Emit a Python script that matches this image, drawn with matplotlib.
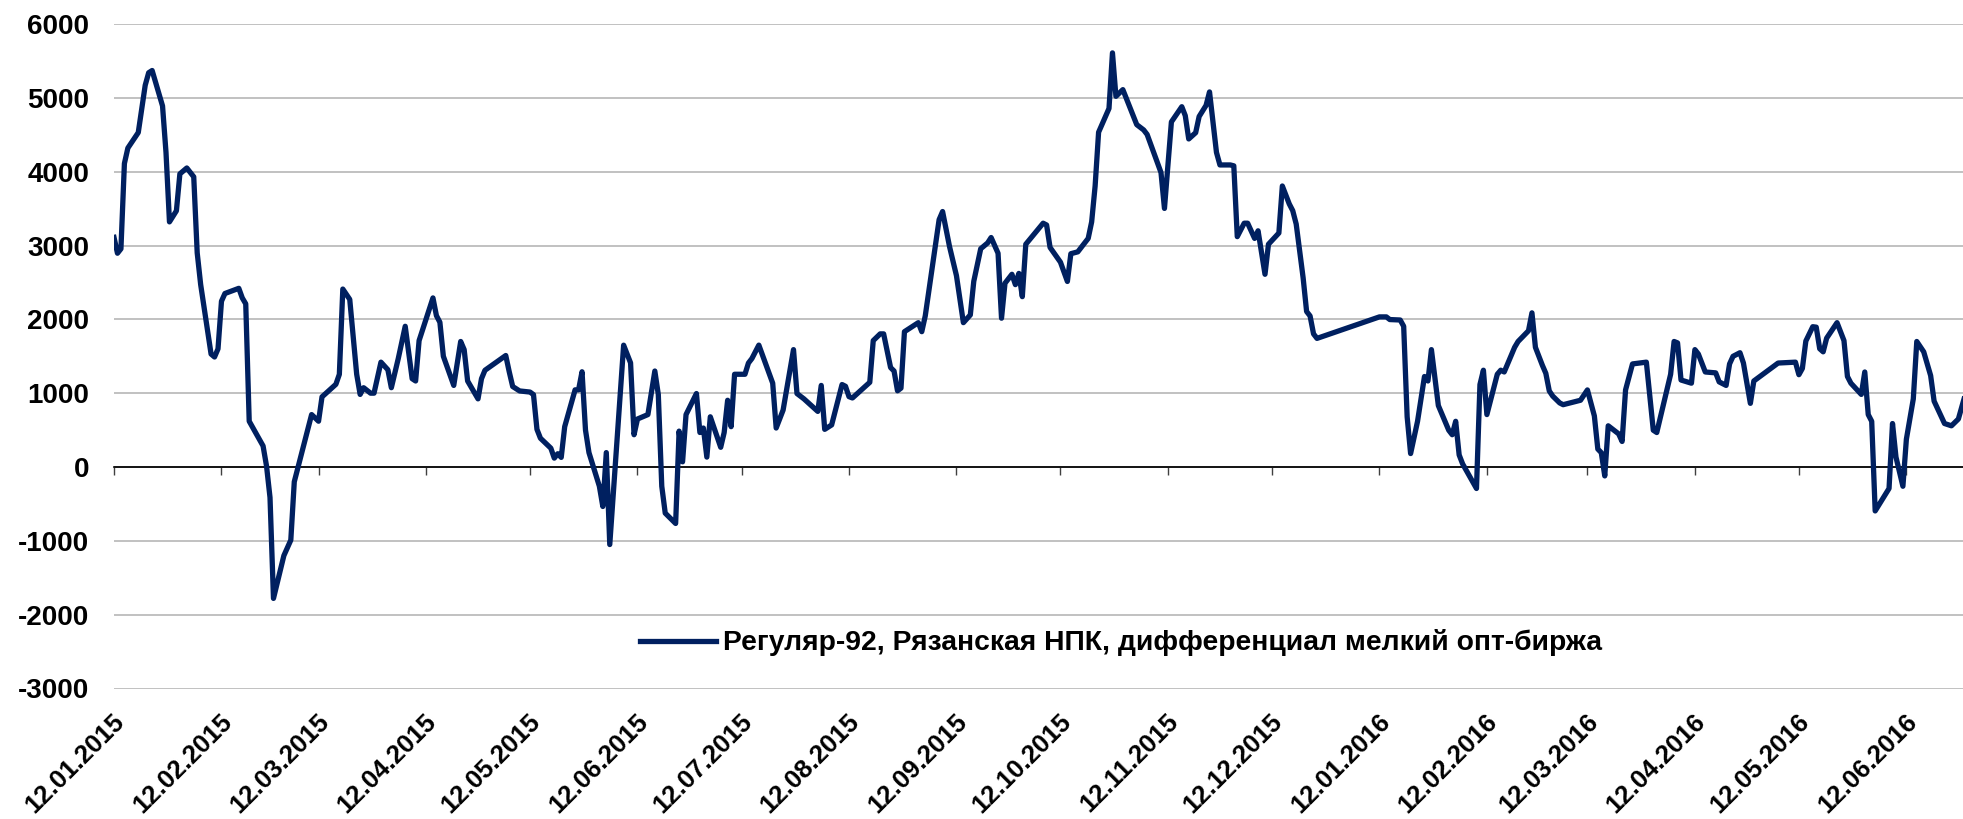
import matplotlib
matplotlib.use("Agg")
import matplotlib.pyplot as plt
import matplotlib.dates as mdates
from matplotlib.ticker import FixedLocator, NullFormatter
from matplotlib.transforms import ScaledTranslation
import pandas as pd

plt.rcParams['font.family'] = ['Liberation Sans', 'DejaVu Sans']
plt.rcParams['font.weight'] = 'bold'
plt.rcParams['axes.unicode_minus'] = False

# ряд: Регуляр-92, дифференциал мелкий опт - биржа
dates = [
    "2015-01-12", "2015-01-13", "2015-01-14", "2015-01-15", "2015-01-16", "2015-01-19",
    "2015-01-21", "2015-01-22", "2015-01-23", "2015-01-26", "2015-01-27", "2015-01-28",
    "2015-01-30", "2015-01-31", "2015-02-02", "2015-02-04", "2015-02-05", "2015-02-06",
    "2015-02-09", "2015-02-10", "2015-02-11", "2015-02-12", "2015-02-13", "2015-02-17",
    "2015-02-18", "2015-02-19", "2015-02-20", "2015-02-24", "2015-02-25", "2015-02-26",
    "2015-02-27", "2015-03-02", "2015-03-04", "2015-03-05", "2015-03-10", "2015-03-12",
    "2015-03-13", "2015-03-17", "2015-03-18", "2015-03-19", "2015-03-21", "2015-03-23",
    "2015-03-24", "2015-03-25", "2015-03-27", "2015-03-28", "2015-03-30", "2015-04-01",
    "2015-04-02", "2015-04-04", "2015-04-06", "2015-04-08", "2015-04-09", "2015-04-10",
    "2015-04-14", "2015-04-15", "2015-04-16", "2015-04-17", "2015-04-20", "2015-04-22",
    "2015-04-23", "2015-04-24", "2015-04-27", "2015-04-28", "2015-04-29", "2015-05-05",
    "2015-05-06", "2015-05-07", "2015-05-09", "2015-05-12", "2015-05-13", "2015-05-14",
    "2015-05-15", "2015-05-18", "2015-05-19", "2015-05-20", "2015-05-21", "2015-05-22",
    "2015-05-25", "2015-05-26", "2015-05-27", "2015-05-28", "2015-05-29", "2015-06-01",
    "2015-06-02", "2015-06-03", "2015-06-04", "2015-06-08", "2015-06-10", "2015-06-11",
    "2015-06-12", "2015-06-15", "2015-06-17", "2015-06-18", "2015-06-19", "2015-06-20",
    "2015-06-23", "2015-06-24", "2015-06-25", "2015-06-26", "2015-06-29", "2015-06-30",
    "2015-07-01", "2015-07-02", "2015-07-03", "2015-07-06", "2015-07-07", "2015-07-08",
    "2015-07-09", "2015-07-10", "2015-07-13", "2015-07-14", "2015-07-15", "2015-07-17",
    "2015-07-21", "2015-07-22", "2015-07-24", "2015-07-27", "2015-07-28", "2015-07-30",
    "2015-08-03", "2015-08-04", "2015-08-05", "2015-08-07", "2015-08-10", "2015-08-11",
    "2015-08-12", "2015-08-13", "2015-08-18", "2015-08-19", "2015-08-21", "2015-08-22",
    "2015-08-24", "2015-08-25", "2015-08-26", "2015-08-27", "2015-08-28", "2015-08-31",
    "2015-09-01", "2015-09-02", "2015-09-03", "2015-09-07", "2015-09-08", "2015-09-10",
    "2015-09-12", "2015-09-14", "2015-09-16", "2015-09-17", "2015-09-19", "2015-09-21",
    "2015-09-22", "2015-09-24", "2015-09-25", "2015-09-26", "2015-09-28", "2015-09-29",
    "2015-09-30", "2015-10-01", "2015-10-02", "2015-10-07", "2015-10-08", "2015-10-09",
    "2015-10-12", "2015-10-14", "2015-10-15", "2015-10-17", "2015-10-20", "2015-10-21",
    "2015-10-22", "2015-10-23", "2015-10-26", "2015-10-27", "2015-10-28", "2015-10-30",
    "2015-11-03", "2015-11-05", "2015-11-06", "2015-11-10", "2015-11-11", "2015-11-13",
    "2015-11-16", "2015-11-17", "2015-11-18", "2015-11-20", "2015-11-21", "2015-11-23",
    "2015-11-24", "2015-11-26", "2015-11-27", "2015-11-30", "2015-12-01", "2015-12-02",
    "2015-12-04", "2015-12-05", "2015-12-07", "2015-12-08", "2015-12-10", "2015-12-11",
    "2015-12-14", "2015-12-15", "2015-12-17", "2015-12-18", "2015-12-19", "2015-12-21",
    "2015-12-22", "2015-12-23", "2015-12-24", "2015-12-25", "2016-01-12", "2016-01-14",
    "2016-01-15", "2016-01-18", "2016-01-19", "2016-01-20", "2016-01-21", "2016-01-23",
    "2016-01-25", "2016-01-26", "2016-01-27", "2016-01-29", "2016-02-01", "2016-02-02",
    "2016-02-03", "2016-02-04", "2016-02-05", "2016-02-09", "2016-02-10", "2016-02-11",
    "2016-02-12", "2016-02-15", "2016-02-16", "2016-02-17", "2016-02-20", "2016-02-21",
    "2016-02-24", "2016-02-25", "2016-02-26", "2016-02-28", "2016-02-29", "2016-03-01",
    "2016-03-02", "2016-03-04", "2016-03-05", "2016-03-10", "2016-03-12", "2016-03-14",
    "2016-03-15", "2016-03-16", "2016-03-17", "2016-03-18", "2016-03-21", "2016-03-22",
    "2016-03-23", "2016-03-25", "2016-03-27", "2016-03-29", "2016-03-31", "2016-04-01",
    "2016-04-05", "2016-04-06", "2016-04-07", "2016-04-08", "2016-04-11", "2016-04-12",
    "2016-04-13", "2016-04-15", "2016-04-18", "2016-04-19", "2016-04-21", "2016-04-22",
    "2016-04-23", "2016-04-25", "2016-04-26", "2016-04-28", "2016-04-29", "2016-05-06",
    "2016-05-11", "2016-05-12", "2016-05-13", "2016-05-14", "2016-05-16", "2016-05-17",
    "2016-05-18", "2016-05-19", "2016-05-20", "2016-05-23", "2016-05-25", "2016-05-26",
    "2016-05-27", "2016-05-30", "2016-05-31", "2016-06-01", "2016-06-02", "2016-06-03",
    "2016-06-07", "2016-06-08", "2016-06-09", "2016-06-11", "2016-06-12", "2016-06-14",
    "2016-06-15", "2016-06-17", "2016-06-19", "2016-06-20", "2016-06-23", "2016-06-25",
    "2016-06-27", "2016-06-29",
]
values = [
    3110, 2895, 2955, 4110, 4320, 4530,
    5170, 5340, 5370, 4890, 4260, 3320,
    3470, 3970, 4050, 3930, 2900, 2470,
    1530, 1490, 1600, 2245, 2350, 2420,
    2290, 2210, 620, 285, 12, -413,
    -1780, -1200, -990, -200, 710, 620,
    950, 1120, 1255, 2410, 2270, 1256,
    983, 1074, 1000, 1000, 1420, 1317,
    1074, 1470, 1906, 1196, 1165, 1712,
    2290, 2050, 1960, 1500, 1105, 1700,
    1590, 1165, 923, 1196, 1310, 1510,
    1290, 1090, 1030, 1015, 980, 510,
    390, 255, 120, 180, 130, 546,
    1045, 1045, 1290, 500, 195, -260,
    -535, 195, -1050, 1650, 1410, 437,
    650, 710, 1300, 983, -260, -625,
    -765, 486, 70, 710, 995, 467,
    528, 134, 680, 267, 467, 904,
    546, 1256, 1256, 1408, 1469, 1651,
    1135, 528, 771, 1590, 995, 923,
    753, 1105, 510, 570, 1117, 1093,
    953, 935, 1147, 1712, 1803, 1803,
    1347, 1300, 1032, 1068, 1833, 1924,
    1955, 1833, 2046, 3350, 3460, 2986,
    2592, 1955, 2060, 2515, 2956, 3035,
    3108, 2895, 2015, 2489, 2610, 2470,
    2622, 2307, 3017, 3302, 3278, 2974,
    2774, 2513, 2889, 2914, 3096, 3320,
    3806, 4534, 4856, 5609, 5020, 5111,
    4637, 4565, 4504, 3988, 3502, 4674,
    4880, 4759, 4443, 4528, 4747, 4898,
    5080, 4261, 4091, 4091, 4079, 3120,
    3302, 3302, 3096, 3199, 2610, 3017,
    3169, 3806, 3563, 3472, 3290, 2561,
    2106, 2046, 1803, 1742, 2033, 2033,
    1997, 1991, 1906, 680, 182, 619,
    1226, 1165, 1590, 832, 498, 437,
    619, 164, 42, -291, 1117, 1311,
    710, 1256, 1311, 1287, 1621, 1700,
    1845, 2088, 1621, 1378, 1269, 1030,
    960, 868, 844, 904, 1044, 692,
    243, 194, -121, 558, 449, 346,
    1044, 1396, 1408, 1420, 498, 467,
    1256, 1700, 1681, 1178, 1135, 1590,
    1530, 1287, 1275, 1153, 1105, 1396,
    1499, 1548, 1408, 862, 1165, 1408,
    1420, 1250, 1335, 1706, 1900, 1894,
    1602, 1560, 1745, 1955, 1712, 1226,
    1135, 983, 1287, 710, 619, -595,
    -291, 589, 134, -261, 376, 923,
    1700, 1560, 1238, 892, 589, 558,
    650, 983,
]
series_name = "Регуляр-92, Рязанская НПК, дифференциал мелкий опт-биржа"

tick_dates = pd.date_range("2015-01-12", "2016-06-12", freq=pd.DateOffset(months=1))
tick_labels = [d.strftime("%d.%m.%Y") for d in tick_dates]
y_ticks = list(range(-3000, 6001, 1000))
x_start = pd.Timestamp("2015-01-12")
x_end = pd.Timestamp("2016-06-28 08:00")
y_min, y_max = -3000, 6000

W, H = 1963, 819
fig = plt.figure(figsize=(W / 100, H / 100), dpi=100)
ax = fig.add_axes([114 / W, 1 - 688.5 / H, 1 - 114 / W, (688.5 - 24) / H])

ax.plot(pd.to_datetime(dates), values, color='#002060', lw=3.8,
        solid_joinstyle='round', label=series_name, zorder=3)

ax.set_xlim(x_start, x_end)
ax.set_ylim(y_min, y_max)
ax.set_yticks(y_ticks)
ax.grid(axis='y', color='#b0b0b0', lw=1.1)
ax.set_axisbelow(True)
for s in ax.spines.values():
    s.set_visible(False)
ax.axhline(0, color='black', lw=1.2, zorder=2)

ax.tick_params(axis='y', length=0, pad=18, labelsize=20)
ax.set_xticks(tick_dates)
ax.set_xticklabels(tick_labels, rotation=45, ha='right', va='center',
                   rotation_mode='anchor')
ax.tick_params(axis='x', length=0, pad=21, labelsize=18.5)
# подписи дат чуть правее засечек, как в Excel
shift = ScaledTranslation(7 / 100, 0, fig.dpi_scale_trans)
for lbl in ax.get_xticklabels():
    lbl.set_transform(lbl.get_transform() + shift)

# засечки по месяцам на нулевой линии
sec = ax.secondary_xaxis((0 - y_min) / (y_max - y_min))
sec.spines['bottom'].set_color('black')
sec.spines['bottom'].set_linewidth(1.2)
sec.xaxis.set_major_locator(FixedLocator(mdates.date2num(tick_dates)))
sec.xaxis.set_major_formatter(NullFormatter())
sec.tick_params(axis='x', direction='out', length=6, width=1, color='#404040')

ax.legend(loc='center', bbox_to_anchor=(0.5446, 0.0685), frameon=False,
          fontsize=20.3, handlelength=2.7, handletextpad=0.25)

fig.savefig('out.png', dpi=100)
